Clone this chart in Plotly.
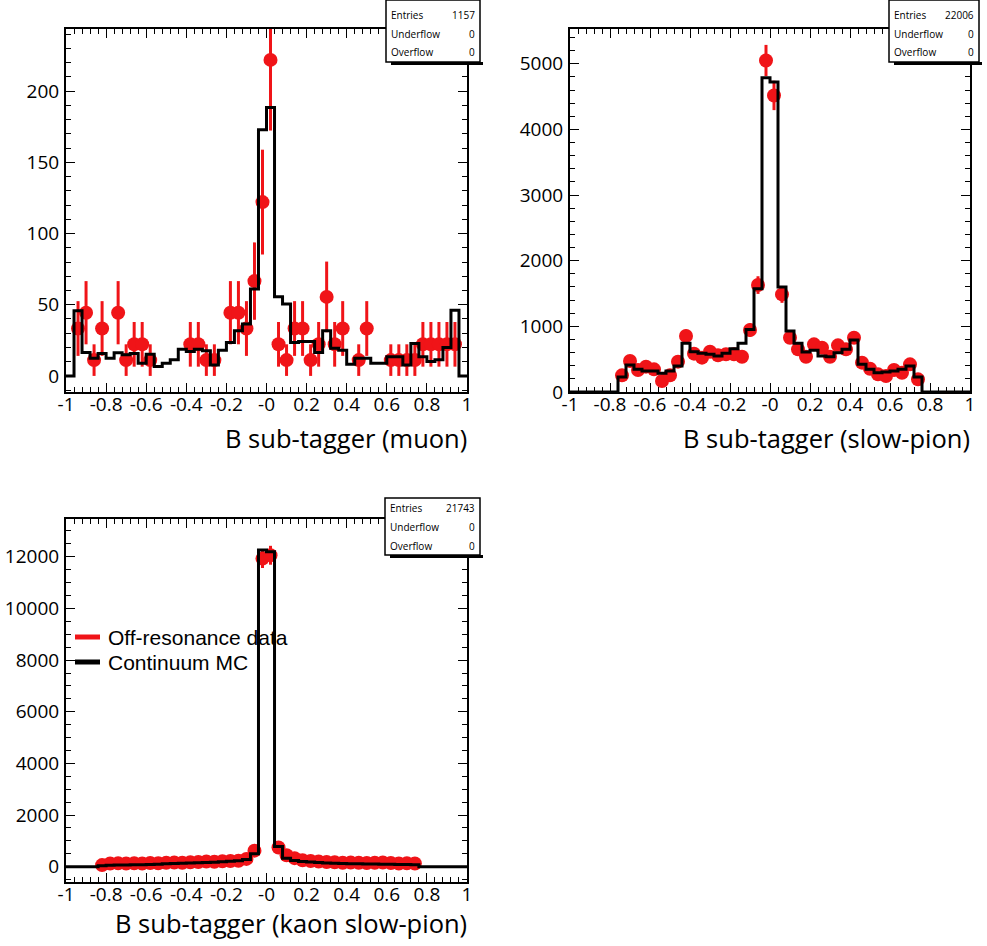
import numpy as np
import plotly.graph_objects as go

# ---------------- data ----------------
BIN_EDGES = np.linspace(-1.0, 1.0, 51)       # 50 bins of width 0.04
BIN_CENTERS = 0.5 * (BIN_EDGES[:-1] + BIN_EDGES[1:])
OFFRES_SCALE = 11.1                           # off-resonance luminosity weight

x_tickvals = [-1, -0.8, -0.6, -0.4, -0.2, 0, 0.2, 0.4, 0.6, 0.8, 1]
x_ticktext = ["-1", "-0.8", "-0.6", "-0.4", "-0.2", "-0", "0.2", "0.4", "0.6", "0.8", "1"]

# muon sub-tagger
muon_mc = [0, 45.8, 16.4, 12.4, 15.7, 12.4, 16.2, 14.8, 15.7, 8.9,
           15.3, 6.6, 8.9, 11.3, 18.8, 17.1, 18.8, 17.6, 7.7, 18.1,
           23.5, 31.7, 36.4, 61.0, 173.0, 188.5, 55.6, 50.5, 23.5, 24.2,
           24.2, 16.4, 31.7, 19.5, 18.1, 8.2, 12.4, 12.4, 8.9, 8.9,
           13.4, 13.4, 7.7, 22.8, 13.4, 10.1, 11.3, 20.0, 46.2, 0]
muon_data = [0, 33.3, 44.4, 11.1, 33.3, 0, 44.4, 11.1, 22.2, 22.2,
             11.1, 0, 0, 0, 0, 22.2, 22.2, 11.1, 11.1, 0,
             44.4, 44.4, 33.3, 66.6, 122.1, 222.0, 22.2, 11.1, 33.3, 33.3,
             11.1, 22.2, 55.5, 22.2, 33.3, 0, 11.1, 33.3, 0, 0,
             11.1, 11.1, 11.1, 11.1, 22.2, 22.2, 22.2, 22.2, 22.2, 0]

# slow-pion sub-tagger
spi_mc = [0, 0, 0, 0, 0, 0, 228, 411, 345, 320,
          320, 284, 320, 396, 741, 614, 589, 574, 548, 589,
          660, 741, 954, 1574, 4787, 4721, 1599, 929, 741, 609,
          635, 548, 538, 599, 650, 792, 421, 345, 294, 305,
          320, 345, 396, 228, 0, 0, 0, 0, 0, 0]
spi_data = [0, 0, 0, 0, 0, 0, 254, 472, 335, 386,
            345, 168, 254, 462, 853, 584, 523, 614, 558, 574,
            574, 538, 944, 1629, 5051, 4518, 1487, 827, 650, 538,
            726, 675, 538, 711, 650, 827, 447, 355, 269, 244,
            335, 294, 421, 193, 0, 0, 0, 0, 0, 0]

# kaon slow-pion sub-tagger
kspi_mc = [0, 0, 0, 0, 40, 55, 60, 65, 70, 75,
           85, 95, 110, 120, 130, 140, 150, 160, 170, 190,
           210, 230, 280, 500, 12260, 12200, 780, 330, 240, 200,
           180, 160, 140, 130, 120, 115, 110, 105, 100, 95,
           90, 85, 80, 75, 0, 0, 0, 0, 0, 0]
kspi_data = [0, 0, 0, 0, 60, 120, 130, 120, 130, 125,
             140, 130, 150, 160, 150, 170, 180, 200, 190, 210,
             220, 230, 300, 620, 11930, 12060, 740, 440, 330, 250,
             220, 200, 180, 170, 150, 160, 150, 140, 150, 160,
             140, 120, 130, 120, 0, 0, 0, 0, 0, 0]

legend_labels = ["Off-resonance data", "Continuum MC"]

panels = [
    dict(mc=muon_mc, data=muon_data, title="B sub-tagger (muon)", entries="1157",
         yrange=[-11.3, 243.7], ytick=50, yminor=10),
    dict(mc=spi_mc, data=spi_data, title="B sub-tagger (slow-pion)", entries="22006",
         yrange=[0, 5530], ytick=1000, yminor=200),
    dict(mc=kspi_mc, data=kspi_data, title="B sub-tagger (kaon slow-pion)", entries="21743",
         yrange=[-594, 13464], ytick=2000, yminor=500),
]

# ---------------- layout geometry (pixels) ----------------
W, H = 987, 946
frames = [(66, 467, 29, 392), (570, 970, 29, 392), (66, 467, 519, 882)]
stat_boxes = [(386, 480, 0, 62, [15, 34, 52]),
              (889, 979, 0, 62, [15, 34, 52]),
              (385, 480, 498, 555, [508, 527, 546])]
title_y = [438, 438, 923]

RED = "#f01418"
FONT = "Open Sans"

def px(x):
    return x / W

def py(y):
    return 1 - y / H

fig = go.Figure()
layout = dict(width=W, height=H, margin=dict(l=0, r=0, t=0, b=0, autoexpand=False),
              paper_bgcolor="white", plot_bgcolor="white", showlegend=False)
annotations = []
shapes = []

for i, p in enumerate(panels):
    n = i + 1
    xa = "x" if n == 1 else f"x{n}"
    ya = "y" if n == 1 else f"y{n}"
    l, r, t, b = frames[i]

    data = np.array(p["data"], dtype=float)
    mask = data > 0
    err = np.sqrt(data[mask] * OFFRES_SCALE)
    fig.add_trace(go.Scatter(
        x=BIN_CENTERS[mask], y=data[mask], mode="markers",
        marker=dict(color=RED, size=14, line=dict(width=0)),
        error_y=dict(type="data", array=err, color=RED, thickness=3, width=0),
        xaxis=xa, yaxis=ya, showlegend=False, hoverinfo="skip"))

    mc = list(p["mc"])
    fig.add_trace(go.Scatter(
        x=BIN_EDGES, y=mc + [mc[-1]], mode="lines", line_shape="hv",
        line=dict(color="black", width=3),
        xaxis=xa, yaxis=ya, showlegend=False, hoverinfo="skip"))

    axcommon = dict(showline=True, mirror="allticks", linecolor="black", linewidth=2,
                    ticks="inside", ticklen=9, tickwidth=1, tickcolor="black",
                    showgrid=False, zeroline=False, automargin=False,
                    tickfont=dict(family=FONT, size=19, color="black"))
    xkey = "xaxis" if n == 1 else f"xaxis{n}"
    ykey = "yaxis" if n == 1 else f"yaxis{n}"
    layout[xkey] = dict(axcommon, domain=[px(l), px(r)], range=[-1, 1],
                        anchor=ya, tickvals=x_tickvals, ticktext=x_ticktext,
                        ticklabelstandoff=-6,
                        minor=dict(ticks="inside", ticklen=5, tickwidth=1,
                                   tickcolor="black", dtick=0.04, tick0=-1, showgrid=False))
    layout[ykey] = dict(axcommon, domain=[py(b), py(t)], range=p["yrange"],
                        anchor=xa, dtick=p["ytick"], tick0=0, tickformat="d",
                        ticklabelstandoff=1,
                        minor=dict(ticks="inside", ticklen=5, tickwidth=1,
                                   tickcolor="black", dtick=p["yminor"], tick0=0,
                                   showgrid=False))

    annotations.append(dict(text=p["title"], xref="paper", yref="paper",
                            x=px(r + 2), y=py(title_y[i]), xanchor="right", yanchor="middle",
                            showarrow=False, font=dict(family=FONT, size=25.5, color="black")))

    bl, br, bt, bb, rows = stat_boxes[i]
    shapes.append(dict(type="rect", xref="paper", yref="paper",
                       x0=px(bl + 5), x1=px(br + 3), y0=py(bb + 3), y1=py(bb),
                       fillcolor="black", line=dict(width=0)))
    shapes.append(dict(type="rect", xref="paper", yref="paper",
                       x0=px(bl), x1=px(br), y0=py(bb), y1=py(bt),
                       fillcolor="white", line=dict(color="black", width=1.5)))
    for label, val, yy in zip(["Entries", "Underflow", "Overflow"],
                              [p["entries"], "0", "0"], rows):
        annotations.append(dict(text=label, xref="paper", yref="paper",
                                x=px(bl + 3), y=py(yy), xanchor="left", yanchor="middle",
                                showarrow=False, font=dict(family=FONT, size=10, color="black")))
        annotations.append(dict(text=val, xref="paper", yref="paper",
                                x=px(br - 3), y=py(yy), xanchor="right", yanchor="middle",
                                showarrow=False, font=dict(family=FONT, size=10, color="black")))

# legend (bottom-left panel), drawn as line samples + labels
legend_colors = [RED, "black"]
legend_rows = [637, 662]
for lab, col, yy in zip(legend_labels, legend_colors, legend_rows):
    shapes.append(dict(type="line", xref="paper", yref="paper",
                       x0=px(75), x1=px(100), y0=py(yy), y1=py(yy),
                       line=dict(color=col, width=5)))
    annotations.append(dict(text=lab, xref="paper", yref="paper",
                            x=px(106), y=py(yy), xanchor="left", yanchor="middle",
                            showarrow=False,
                            font=dict(family="Liberation Sans", size=21, color="black")))

layout["annotations"] = annotations
layout["shapes"] = shapes
fig.update_layout(**layout)
fig.write_html("out.html", config={"displayModeBar": False},
               post_script="document.body.style.margin='0px';")
